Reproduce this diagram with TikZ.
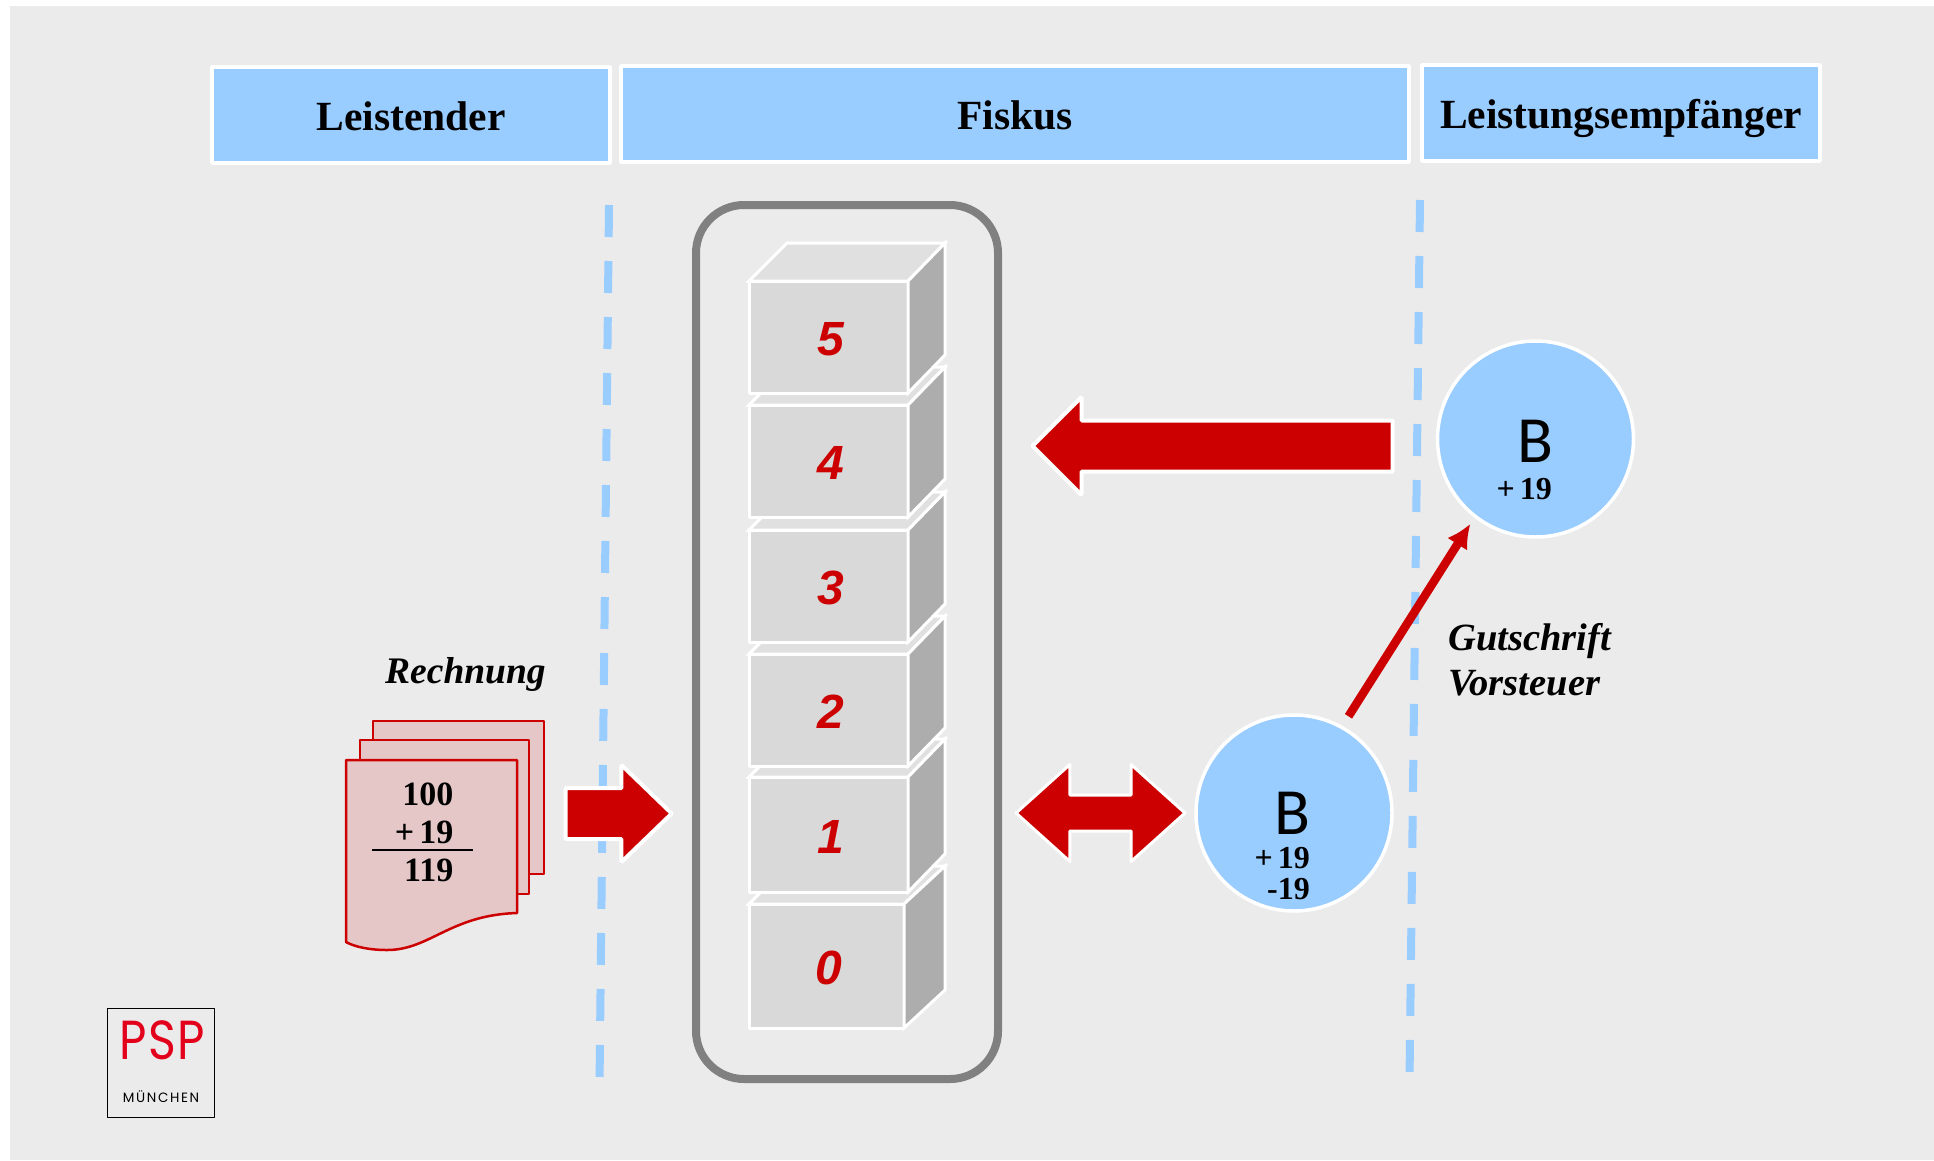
\documentclass[tikz,border=0pt]{standalone}
\usepackage{fontspec}
\setmainfont{Liberation Serif}
\newfontfamily\digitfont{Liberation Sans}
\newfontfamily\circlefont{Carlito}
\newfontfamily\logofont[FakeStretch=0.86,LetterSpace=3]{Poppins}
\newfontfamily\cityfont[LetterSpace=12]{Poppins}
\usetikzlibrary{shapes.arrows,shapes.geometric,arrows.meta}
\definecolor{panelcol}{HTML}{EBEBEB}
\definecolor{bluecol}{HTML}{99CCFF}
\definecolor{redcol}{HTML}{CC0000}
\definecolor{sheetcol}{HTML}{E6C7C7}
\definecolor{framecol}{HTML}{808080}
\definecolor{logocol}{HTML}{E2001A}
\definecolor{frontcol}{HTML}{D9D9D9}
\definecolor{topcol}{HTML}{E0E0E0}
\definecolor{sidecol}{HTML}{ADADAD}
\tikzset{
  hdrbox/.style={draw=white,line width=4pt,fill=bluecol,inner sep=0pt,outer sep=0pt,
    text height=40pt,text depth=10pt,font=\bfseries\fontsize{41.5}{50}\selectfont},
  frontface/.style={draw=white,line width=3pt,fill=frontcol,inner sep=0pt,outer sep=0pt},
  boxnum/.style={inner sep=0pt,text=redcol,font=\digitfont\bfseries\itshape\fontsize{48}{50}\selectfont},
  topface/.style={draw=white,line width=3pt,fill=topcol,line join=miter},
  sideface/.style={draw=white,line width=3pt,fill=sidecol,line join=miter},
  bigarrow/.style={draw=white,line width=4pt,fill=redcol,inner sep=0pt,outer sep=0pt},
  sheet/.style={draw=redcol,line width=2.5pt,fill=sheetcol},
  circ/.style={circle,draw=white,line width=3.5pt,fill=bluecol,minimum size=196pt,inner sep=0pt,outer sep=0pt},
  amount/.style={anchor=base east,inner sep=0pt,font=\bfseries\fontsize{32}{36}\selectfont},
  sheetnum/.style={anchor=base east,inner sep=0pt,font=\bfseries\fontsize{34}{36}\selectfont},
  letter/.style={anchor=base,inner sep=0pt,font=\circlefont\fontsize{66}{70}\selectfont},
  note/.style={anchor=base west,inner sep=0pt,font=\bfseries\itshape\fontsize{38.5}{45}\selectfont},
  border/.style={bluecol,line width=8pt,dash pattern=on 32pt off 24pt},
}
\begin{document}
\begin{tikzpicture}[x=1pt,y=-1pt,>={Latex[length=24pt,width=24pt]},line join=bevel]
  \useasboundingbox (0,0) rectangle (1934,1160);
  % Panel
  \fill[panelcol] (10,6) rectangle (1934,1160);
  % Headers
  \node (leistender) [hdrbox,minimum width=398pt,minimum height=96pt] at (411,115) {Leistender};
  \node (fiskus) [hdrbox,minimum width=788pt,minimum height=96pt] at (1015,114) {Fiskus};
  \node (empfaenger) [hdrbox,minimum width=398pt,minimum height=96pt] at (1621,113) {Leistungsempfänger};
  % Dashed borders
  \coordinate (dashLa) at (609,205);
  \coordinate (dashLb) at (599.6,1077);
  \coordinate (dashRa) at (1420,200);
  \coordinate (dashRb) at (1409.6,1072);
  \draw[border] (dashLa) -- (dashLb);
  \draw[border] (dashRa) -- (dashRb);
  % Frame
  \node (frame) [draw=framecol,line width=8pt,rounded corners=48pt,minimum width=302pt,minimum height=874pt,inner sep=0pt] at (847,642) {};
  % Stack, bottom box first
  \foreach \name/\xa/\xb/\ya/\yb in {0/749/904/904/1028,1/749/908/777/892,2/749/908/654/766,3/749/908/530/642,4/749/908/405/517,5/749/908/281/393}{
    \node (box\name) [frontface,minimum width=\xb pt-\xa pt,minimum height=\yb pt-\ya pt] at ({(\xa+\xb)/2},{(\ya+\yb)/2}) {};
    \draw[topface] (box\name.north west) -- ++(38,-38) -- (945,\ya-38) -- (box\name.north east) -- cycle;
    \draw[sideface] (box\name.north east) -- (945,\ya-38) -- (945,\yb-38) -- (box\name.south east) -- cycle;
    \node (num\name) [boxnum] at ([xshift=2.5pt,yshift=-2pt]box\name) {\name};
  }
  % Invoice
  \draw[sheet] (373,721) -- (544,721) -- (544,874) -- (373,874) -- cycle;
  \draw[sheet] (360,740) -- (529,740) -- (529,894) -- (360,894) -- cycle;
  \draw[sheet] (346,760) -- (517,760) -- (517,913) .. controls (450,915) and (430,950) .. (387,950) .. controls (370,950) and (355,947) .. (346,942) -- cycle;
  \node (sum) [sheetnum] at (453.5,805) {100};
  \node (tax) [sheetnum] at (453.5,843) {+\kern5pt 19};
  \node (total) [sheetnum] at (453.5,881) {119};
  \coordinate (ruleA) at (372,850);
  \coordinate (ruleB) at (473,850);
  \draw[line width=1.5pt] (ruleA) -- (ruleB);
  \node (rechnung) [note,font=\bfseries\itshape\fontsize{37.5}{45}\selectfont] at (385,683) {Rechnung};
  % Block arrows
  \node (arrowIn) [bigarrow,single arrow,inner ysep=23.5pt,single arrow head extend=23pt,single arrow head indent=0pt,single arrow tip angle=88,
    minimum height=106pt,minimum width=93pt] at (605.5,813.5) {};
  \node (arrowBack) [bigarrow,single arrow,inner ysep=23.5pt,shape border rotate=180,single arrow head extend=23.5pt,single arrow tip angle=90,
    minimum height=360pt,minimum width=94pt] at (1225.3,446) {};
  \node (arrowBoth) [bigarrow,line width=3pt,line join=round,double arrow,inner ysep=16.5pt,double arrow head extend=30.5pt,double arrow tip angle=84,
    minimum height=169pt,minimum width=94pt] at (1100.5,813) {};
  % Circles
  \node (bLower) [circ] at (1294,813) {};
  \node (bUpper) [circ] at (1535.5,439) {};
  \node (letterLower) [letter] at (1292,834) {B};
  \node (letterUpper) [letter] at (1535,462) {B};
  \node (plusLower) [amount] at (1310,868) {+\kern5pt 19};
  \node (minusLower) [amount] at (1310,899) {-19};
  \node (plusUpper) [amount] at (1552,499) {+\kern5pt 19};
  % Gutschrift
  \draw[->,redcol,line width=8.5pt,line join=miter,shorten <=13pt,shorten >=9pt] (bLower.61.6) -- (bUpper.232.2);
  \node (gutschrift) [note,align=left] at (1448,695) {Gutschrift\\Vorsteuer};
  % Logo
  \node (logo) [draw=black,line width=1pt,minimum width=107pt,minimum height=109pt,inner sep=0pt] at (160.5,1062.5) {};
  \node (psp) [anchor=base,inner sep=0pt,text=logocol,font=\logofont\fontsize{55}{60}\selectfont] at (162,1059) {PSP};
  \node (muenchen) [anchor=base,inner sep=0pt,font=\cityfont\fontsize{13.5}{15}\selectfont] at (161,1102) {MÜNCHEN};
\end{tikzpicture}
\end{document}
